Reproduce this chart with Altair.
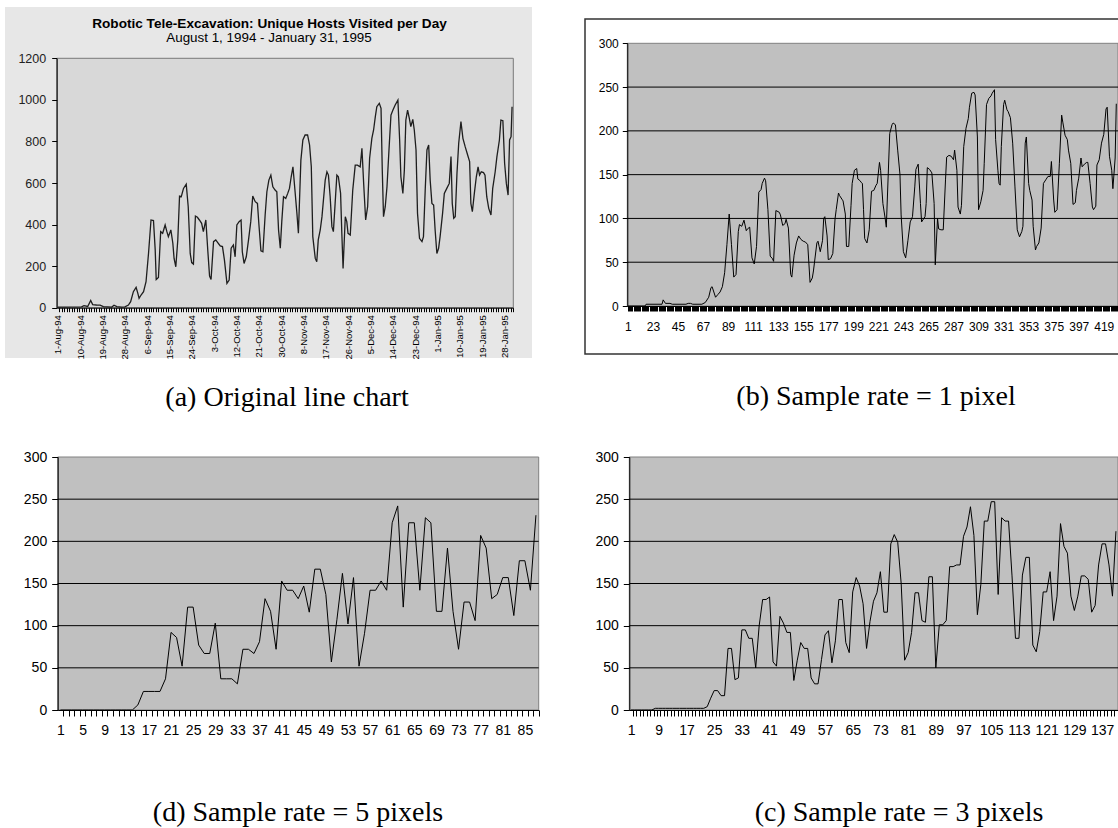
import json
import altair as alt
import pandas as pd

W, H = 1118, 828

# ---------------- data ----------------
A_TITLE = "Robotic Tele-Excavation: Unique Hosts Visited per Day"
A_SUBTITLE = "August 1, 1994 - January 31, 1995"
A_DATE_LABELS = ["1-Aug-94", "10-Aug-94", "19-Aug-94", "28-Aug-94", "6-Sep-94", "15-Sep-94",
                 "24-Sep-94", "3-Oct-94", "12-Oct-94", "21-Oct-94", "30-Oct-94", "8-Nov-94",
                 "17-Nov-94", "26-Nov-94", "5-Dec-94", "14-Dec-94", "23-Dec-94", "1-Jan-95",
                 "10-Jan-95", "19-Jan-95", "28-Jan-95"]
A_Y_TICKS = [0, 200, 400, 600, 800, 1000, 1200]
SAMPLE_Y_TICKS = [0, 50, 100, 150, 200, 250, 300]
GRID_VALUES = [50, 100, 150, 200, 250]

# (a) original chart: (day offset from 1-Aug-94, unique hosts) at the line's vertices
A_POINTS = [(0, 3), (9.5, 4), (10.5, 10), (12, 6), (13.2, 35), (14, 15), (15.5, 13), (17, 12),
            (18.3, 5), (21.7, 3), (22.6, 12), (23.7, 5), (25.7, 3), (27, 4), (28.4, 13), (29.3, 29),
            (30.4, 77), (31.5, 98), (32.2, 69), (32.7, 45), (33.5, 61), (34.5, 77), (35.5, 125),
            (36.5, 261), (37.5, 422), (38.5, 419), (39.2, 277), (39.6, 136), (40.5, 146), (41.4, 366),
            (42.2, 358), (43.2, 398), (43.9, 366), (44.5, 342), (45.5, 374), (46.3, 310), (46.8, 237),
            (47.5, 197), (48.3, 326), (49.0, 537), (49.7, 534), (50.6, 574), (51.7, 594), (52.5, 486),
            (53.3, 261), (53.9, 217), (54.6, 210), (55.4, 441), (56.2, 435), (57.0, 422), (57.9, 406),
            (58.6, 366), (59.6, 422), (60.4, 273), (61.1, 152), (61.7, 136), (62.7, 318), (63.6, 326),
            (64.4, 313), (65.4, 297), (66.3, 294), (67.1, 229), (68.1, 117), (69.0, 133), (69.8, 286),
            (70.7, 302), (71.4, 245), (72.1, 398), (73.0, 414), (73.8, 422), (74.3, 269), (75.0, 213),
            (75.9, 245), (76.8, 326), (77.7, 414), (78.5, 537), (79.5, 510), (80.4, 502), (81.0, 398),
            (81.8, 274), (82.6, 269), (83.5, 446), (84.2, 558), (85.0, 614), (85.8, 638), (86.6, 582),
            (87.5, 566), (88.2, 558), (88.9, 374), (89.6, 286), (90.2, 414), (90.9, 534), (91.8, 526),
            (92.6, 550), (93.3, 574), (94.0, 630), (94.7, 678), (95.5, 566), (96.3, 454), (96.9, 358),
            (97.9, 710), (98.7, 807), (99.6, 831), (100.6, 831), (101.4, 783), (102.1, 678),
            (102.7, 342), (103.7, 237), (104.3, 221), (104.9, 326), (105.7, 374), (106.4, 438),
            (107.7, 614), (108.4, 654), (109.0, 638), (109.7, 534), (110.4, 390), (111.0, 366),
            (111.7, 502), (112.4, 638), (113.0, 630), (113.9, 550), (114.4, 358), (114.9, 189),
            (115.8, 438), (116.4, 414), (116.9, 358), (117.8, 350), (118.8, 566), (119.8, 686),
            (120.7, 686), (121.8, 678), (122.5, 767), (123.2, 598), (124.0, 422), (124.8, 486),
            (125.6, 719), (126.5, 815), (127.2, 855), (127.9, 919), (128.5, 967), (129.5, 983),
            (130.2, 959), (130.7, 662), (131.2, 438), (131.9, 486), (132.6, 582), (133.4, 759),
            (134.2, 927), (135.0, 951), (135.9, 975), (137.0, 999), (137.7, 807), (138.2, 630),
            (139.0, 550), (139.6, 662), (140.2, 903), (140.9, 951), (141.6, 911), (142.2, 871),
            (143.0, 906), (143.6, 855), (144.3, 759), (144.9, 454), (145.7, 334), (146.7, 318),
            (147.3, 342), (148.0, 566), (148.7, 759), (149.4, 783), (150.0, 614), (150.7, 502),
            (151.4, 494), (152.0, 374), (152.7, 261), (153.4, 286), (154.0, 342), (155.0, 454),
            (155.7, 550), (156.7, 574), (157.7, 598), (158.4, 727), (158.9, 502), (159.5, 430),
            (160.1, 438), (160.8, 646), (161.5, 791), (162.4, 895), (163.2, 815), (164.1, 775),
            (165.1, 735), (165.9, 703), (166.4, 502), (167.0, 462), (167.8, 550), (168.6, 630),
            (169.3, 678), (169.9, 638), (170.6, 654), (171.5, 650), (172.1, 638), (172.8, 534),
            (173.6, 478), (174.5, 446), (175.2, 574), (176.2, 654), (176.9, 727), (177.9, 807),
            (178.5, 903), (179.3, 900), (180.0, 695), (180.7, 598), (181.4, 542), (182.0, 807),
            (182.6, 823), (183.0, 967)]

# (b) sample rate = 1 pixel: (sample index, value) at the line's vertices
B_POINTS = [(1, 0), (16, 0), (17, 2), (31, 2), (32, 7), (34, 3), (38, 3), (40, 2), (52, 2), (54, 3),
            (56, 3), (58, 2), (66, 2), (69, 4), (72, 10), (74, 21), (75, 22), (78, 10), (80, 13),
            (82, 16), (84, 22), (86, 38), (88, 70), (90, 105), (92, 70), (94, 33), (96, 36), (98, 85),
            (99, 93), (101, 91), (103, 98), (105, 86), (106, 88), (108, 90), (110, 55), (112, 48),
            (114, 68), (116, 130), (118, 133), (119, 140), (121, 146), (122, 143), (124, 110),
            (126, 57), (128, 54), (129, 51), (131, 109), (134, 107), (135, 104), (137, 92), (139, 94),
            (140, 99), (142, 89), (144, 36), (145, 33), (147, 58), (149, 72), (151, 80), (153, 76),
            (155, 74), (157, 73), (159, 70), (161, 27), (163, 32), (164, 40), (167, 72), (168, 74),
            (169, 68), (170, 62), (172, 75), (173, 100), (174, 102), (176, 80), (177, 53), (179, 54),
            (181, 60), (183, 100), (184, 110), (186, 129), (187, 126), (189, 122), (190, 120),
            (192, 105), (193, 68), (195, 68), (197, 115), (198, 140), (200, 155), (202, 157),
            (203, 145), (205, 143), (206, 141), (207, 140), (208, 110), (209, 77), (211, 72),
            (213, 87), (215, 131), (217, 132), (219, 138), (220, 140), (222, 164), (223, 155),
            (225, 117), (227, 100), (228, 90), (231, 197), (233, 207), (234, 209), (236, 207),
            (238, 178), (240, 150), (241, 104), (243, 62), (245, 55), (247, 75), (249, 96),
            (251, 102), (253, 136), (254, 156), (256, 162), (258, 117), (259, 96), (262, 102),
            (263, 117), (264, 158), (266, 156), (268, 152), (270, 117), (271, 47), (273, 100),
            (274, 88), (276, 87), (278, 87), (280, 144), (281, 170), (283, 172), (285, 171),
            (287, 167), (288, 178), (290, 155), (291, 113), (293, 105), (294, 115), (296, 182),
            (298, 203), (300, 214), (301, 227), (303, 243), (305, 244), (306, 241), (308, 193),
            (309, 110), (311, 119), (313, 132), (314, 163), (316, 230), (318, 237), (320, 240),
            (321, 243), (323, 247), (324, 190), (326, 155), (327, 140), (328, 138), (329, 182),
            (331, 230), (332, 235), (334, 224), (335, 222), (337, 215), (339, 186), (341, 136),
            (343, 87), (345, 79), (347, 85), (348, 91), (350, 186), (351, 193), (353, 140),
            (354, 132), (356, 121), (357, 91), (359, 64), (360, 68), (362, 72), (364, 89),
            (366, 140), (368, 144), (370, 148), (372, 148), (373, 165), (375, 121), (376, 107),
            (378, 110), (380, 163), (382, 218), (383, 210), (385, 195), (387, 190), (388, 178),
            (390, 163), (392, 116), (394, 118), (395, 132), (397, 146), (399, 169), (400, 159),
            (402, 162), (404, 164), (405, 164), (407, 140), (409, 113), (410, 110), (412, 114),
            (413, 161), (415, 167), (417, 186), (419, 196), (421, 225), (422, 227), (424, 171),
            (426, 155), (427, 134), (429, 169), (430, 231)]

# (c) sample rate = 3 pixels: one value per sample 1..141
C_VALUES = [0, 0, 0, 0, 0, 0, 0, 2, 2, 2, 2, 2, 2, 2, 2, 2, 2, 2, 2, 2, 2, 2, 4, 14, 23, 23, 17, 17,
            73, 73, 36, 38, 95, 95, 85, 85, 50, 100, 131, 131, 134, 57, 52, 111, 103, 92, 92, 35, 59,
            80, 73, 73, 38, 31, 31, 60, 89, 94, 56, 82, 131, 131, 80, 68, 140, 157, 147, 126, 73, 105,
            129, 139, 164, 116, 116, 197, 208, 199, 150, 59, 68, 92, 139, 139, 106, 104, 158, 158, 50,
            101, 101, 106, 170, 170, 172, 172, 206, 217, 241, 207, 113, 149, 224, 224, 247, 247, 137,
            228, 224, 224, 159, 85, 85, 160, 181, 181, 77, 69, 93, 140, 140, 164, 106, 135, 221, 194,
            186, 135, 118, 135, 159, 159, 155, 116, 124, 172, 197, 197, 172, 135, 212]

# (d) sample rate = 5 pixels: one value per sample 1..87
D_VALUES = [0, 0, 0, 0, 0, 0, 0, 0, 0, 0, 0, 0, 0, 0, 6, 22, 22, 22, 22, 37, 92, 86, 52, 122, 122,
            77, 67, 67, 103, 37, 37, 37, 31, 72, 72, 67, 81, 132, 117, 72, 153, 142, 142, 132, 147,
            116, 167, 167, 137, 57, 107, 162, 102, 157, 52, 91, 142, 142, 153, 142, 222, 242, 122,
            222, 222, 142, 228, 222, 117, 117, 192, 117, 72, 128, 128, 106, 207, 192, 132, 137, 157,
            157, 112, 177, 177, 142, 231]

CAPTIONS = ["(a) Original line chart", "(b) Sample rate = 1 pixel",
            "(d) Sample rate = 5 pixels", "(c) Sample rate = 3 pixels"]

# ---------------- helpers ----------------
FONT = "Liberation Sans"
SERIF = "Liberation Serif"
one = pd.DataFrame({"k": [0]})


def sc(dom, rng):
    return alt.Scale(domain=dom, range=rng, nice=False, zero=False)


def px_rect(x0, x1, y0, y1, **kw):
    return alt.Chart(one).mark_rect(**kw).encode(
        x=alt.value(x0), x2=alt.value(x1), y=alt.value(y0), y2=alt.value(y1))


def text(s, x, y, size, font=FONT, weight="normal", baseline="middle", color="black"):
    return alt.Chart(one).mark_text(text=s, font=font, fontSize=size, fontWeight=weight,
                                    align="center", baseline=baseline, color=color).encode(
        x=alt.value(x), y=alt.value(y))


def data_rect(xs, ys, xd, yd, **kw):
    return alt.Chart(one).mark_rect(**kw).encode(
        x=alt.XDatum(xd[0], type="quantitative", scale=xs, axis=None),
        x2=alt.X2Datum(xd[1]),
        y=alt.YDatum(yd[0], type="quantitative", scale=ys, axis=None),
        y2=alt.Y2Datum(yd[1]))


def grid(xs, ys, xd, vals, color="black"):
    return alt.Chart(pd.DataFrame({"g": vals})).mark_rule(color=color, strokeWidth=1).encode(
        x=alt.XDatum(xd[0], type="quantitative", scale=xs, axis=None),
        x2=alt.X2Datum(xd[1]),
        y=alt.Y("g:Q", scale=ys, axis=None))


def x_axis(y_px, values, label_expr, tick_size, font_size, pad, tick_off=0.0, **kw):
    return alt.Axis(orient="bottom", offset=y_px - H, values=values, labelExpr=label_expr,
                    format="d", tickSize=tick_size, labelFontSize=font_size, labelFont=FONT,
                    labelPadding=pad, labelOverlap=False, labelFlush=False, title=None, grid=False,
                    domainColor="black", tickColor="black", labelColor="black", zindex=2,
                    tickOffset=tick_off, labelOffset=-tick_off, **kw)


def y_axis(x_px, values, font_size, pad, tick_size=5, color="black"):
    return alt.Axis(orient="left", offset=-x_px, values=values, format="d", tickSize=tick_size,
                    labelFontSize=font_size, labelFont=FONT, labelPadding=pad, labelOverlap=False,
                    labelFlush=False, title=None, grid=False, domainColor="black",
                    tickColor="black", labelColor=color, zindex=2)


layers = []

# ---------------- panel (a) ----------------
A_XD, A_YD = [-0.5, 183.5], [0, 1200]
xa = sc(A_XD, [56.7, 513.3])
ya = sc(A_YD, [307.7, 58.3])
dfa = pd.DataFrame(A_POINTS, columns=["day", "v"])
a_label_expr = ("datum.value % 9 === 0 ? " + json.dumps(A_DATE_LABELS) +
                "[datum.value / 9] : ''")
layers += [
    px_rect(5, 532, 7, 358, fill="#e7e7e7"),
    data_rect(xa, ya, A_XD, A_YD, fill="#d8d8d8", stroke="#7a7a7a", strokeWidth=1),
    alt.Chart(dfa).mark_line(color="#1e1e1e", strokeWidth=1.3).encode(
        x=alt.X("day:Q", scale=xa,
                axis=x_axis(307.7, list(range(0, 184)), a_label_expr, 4, 9.5, 3, 1.24,
                            labelAngle=270, labelAlign="right", labelBaseline="middle")),
        y=alt.Y("v:Q", scale=ya, axis=y_axis(56.7, A_Y_TICKS, 12.5, 6, 5, "#222222"))),
    text(A_TITLE, 269.5, 24, 13.6, weight="bold"),
    text(A_SUBTITLE, 269, 38, 13.4),
]

# ---------------- panel (b) ----------------
B_XD, S_YD = [0.5, 431.5], [0, 300]
xb = sc(B_XD, [627.3, 1118])
yb = sc(S_YD, [306, 43.3])
dfb = pd.DataFrame(B_POINTS, columns=["i", "v"])
layers += [
    px_rect(585, 1140, 19, 354, fill="white", stroke="#333333", strokeWidth=1.5),
    data_rect(xb, yb, B_XD, S_YD, fill="#c0c0c0", stroke="#808080", strokeWidth=1),
    grid(xb, yb, B_XD, GRID_VALUES),
    alt.Chart(dfb).mark_line(color="black", strokeWidth=1).encode(
        x=alt.X("i:Q", scale=xb,
                axis=x_axis(306, list(range(1, 432)),
                            "(datum.value - 1) % 22 === 0 ? datum.label : ''", 5, 12, 10)),
        y=alt.Y("v:Q", scale=yb, axis=y_axis(627.3, SAMPLE_Y_TICKS, 12, 4))),
]

# ---------------- panel (d) ----------------
D_XD = [0.5, len(D_VALUES) + 0.5]
xd = sc(D_XD, [57.7, 538.7])
yd = sc(S_YD, [710, 457])
dfd = pd.DataFrame({"i": list(range(1, len(D_VALUES) + 1)), "v": D_VALUES})
layers += [
    data_rect(xd, yd, D_XD, S_YD, fill="#c0c0c0", stroke="#808080", strokeWidth=1),
    grid(xd, yd, D_XD, GRID_VALUES),
    alt.Chart(dfd).mark_line(color="black", strokeWidth=1).encode(
        x=alt.X("i:Q", scale=xd,
                axis=x_axis(710, list(range(1, len(D_VALUES) + 1)),
                            "(datum.value - 1) % 4 === 0 ? datum.label : ''", 6, 14, 7, 2.76)),
        y=alt.Y("v:Q", scale=yd, axis=y_axis(57.7, SAMPLE_Y_TICKS, 14, 5, 6))),
]

# ---------------- panel (c) ----------------
C_XD = [0.5, 141.6]
xc = sc(C_XD, [629.3, 1118])
yc = sc(S_YD, [710, 457])
dfc = pd.DataFrame({"i": list(range(1, len(C_VALUES) + 1)), "v": C_VALUES})
layers += [
    data_rect(xc, yc, C_XD, S_YD, fill="#c0c0c0", stroke="#808080", strokeWidth=1),
    grid(xc, yc, C_XD, GRID_VALUES),
    alt.Chart(dfc).mark_line(color="black", strokeWidth=1).encode(
        x=alt.X("i:Q", scale=xc,
                axis=x_axis(710, list(range(1, len(C_VALUES) + 1)),
                            "(datum.value - 1) % 8 === 0 ? datum.label : ''", 6, 14, 7, 1.73)),
        y=alt.Y("v:Q", scale=yc, axis=y_axis(629.3, SAMPLE_Y_TICKS, 14, 5, 6))),
]

# ---------------- captions ----------------
layers += [
    text(CAPTIONS[0], 287, 405.5, 28, font=SERIF, baseline="alphabetic"),
    text(CAPTIONS[1], 876, 404.5, 28, font=SERIF, baseline="alphabetic"),
    text(CAPTIONS[2], 298, 820.5, 28, font=SERIF, baseline="alphabetic"),
    text(CAPTIONS[3], 899, 820.5, 28, font=SERIF, baseline="alphabetic"),
]

chart = (
    alt.layer(*layers)
    .resolve_scale(x="independent", y="independent")
    .resolve_axis(x="independent", y="independent")
    .properties(width=W, height=H, autosize=alt.AutoSizeParams(type="none"), padding=0,
                background="white")
    .configure_view(strokeWidth=0)
)

chart.save("out.html", embed_options={"renderer": "svg", "actions": False})
